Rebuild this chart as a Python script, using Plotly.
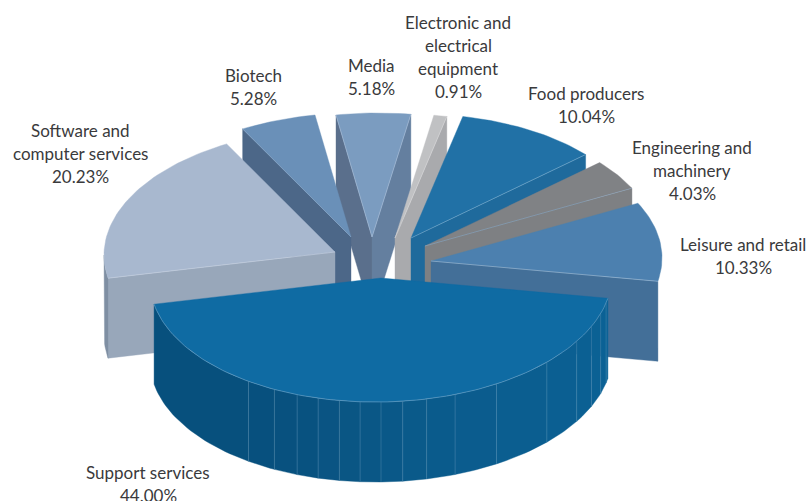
import math
import plotly.graph_objects as go

# Sector shares, clockwise from the sector centred on the front of the pie
sectors = ["Support services", "Software and computer services", "Biotech", "Media",
           "Electronic and electrical equipment", "Food producers",
           "Engineering and machinery", "Leisure and retail"]
shares = [44.00, 20.23, 5.28, 5.18, 0.91, 10.04, 4.03, 10.33]

label_lines = [["Support services"], ["Software and", "computer services"], ["Biotech"], ["Media"],
               ["Electronic and", "electrical", "equipment"], ["Food producers"],
               ["Engineering and", "machinery"], ["Leisure and retail"]]
label_anchor = [(148, 472), (80, 130), (253, 75), (371, 65), (458, 22), (586, 93), (692, 147), (743, 244)]

# Explosion offset of each sector from the pie centre
pull_x = [0, -46, -30, -9, 14, 30, 44, 50]
pull_y = [16, -10, -25, -25, -24, -24, -16, -1]

top_colors = ["#0F6BA3", "#A8B8CF", "#6A90B8", "#7B9CC0", "#C0C1C3", "#2171A6", "#808285", "#4C80AF"]
start_wall = ["#0A5A8C", "#98A7BA", "#4C6788", "#5A6F8C", "#A9AAAD", "#1F6A9C", "#7E8083", "#436F98"]
end_wall = ["#0A5A8C", "#98A7BA", "#4C6788", "#647F9F", "#A9AAAD", "#1F6A9C", "#7E8083", "#436F98"]
outer_wall = ["#0A5A8C", "#7F8FA3", "#4C6788", "#5A6F8C", "#A9AAAD", "#1F6A9C", "#7E8083", "#5C86AA"]
edge_colors = ["#6FA5C8", "#C8D2E0", "#8AA6C6", "#A6BCD6", "#D6D7D9", "#7FB0D0", "#8FA9C2", "#A5C0D8"]

# Paint order, back of the pie first
paint_order = [3, 4, 2, 5, 6, 7, 1, 0]

# Facets of the front wall, in degrees either side of the front point
facet_edges = [-35, -27.5, -21.3, -15.8, -10.4, -5.2, 0, 5.4, 11.4, 18.7, 30, 45.9, 57.9, 65.6, 72, 77]
facet_colors = ["#07507D", "#07507E", "#08517F", "#085280", "#0A5483", "#0A5684", "#0A5786", "#0A5888",
                "#0A5A8A", "#0A5B8C", "#0B5C8E", "#0B5E90", "#0B5F92", "#0B6093", "#0B6194", "#0B6195",
                "#0B6296"]

CX, CY = 381, 262
RX, RY = 231, 124
TILT = 3
DEPTH = 80

fig = go.Figure()


def rim(i, theta):
    t = math.radians(theta)
    return (CX + pull_x[i] + RX * math.sin(t),
            CY + pull_y[i] - RY * math.cos(t) - TILT * math.sin(t))


def apex(i):
    return CX + pull_x[i], CY + pull_y[i]


def poly(points, color):
    xs = [p[0] for p in points] + [points[0][0]]
    ys = [p[1] for p in points] + [points[0][1]]
    fig.add_trace(go.Scatter(x=xs, y=ys, mode="lines", fill="toself", fillcolor=color,
                             line=dict(color=color, width=0.4), hoverinfo="skip", showlegend=False))


def stroke(points, color, width=0.7):
    fig.add_trace(go.Scatter(x=[p[0] for p in points], y=[p[1] for p in points], mode="lines",
                             line=dict(color=color, width=width), hoverinfo="skip", showlegend=False))


def arc(i, a, b):
    n = max(2, int(abs(b - a) / 1.5) + 2)
    return [rim(i, a + (b - a) * k / (n - 1)) for k in range(n)]


def drop(points):
    return [(x, y + DEPTH) for x, y in points]


# Sector boundaries, measured clockwise from the back of the pie
bounds = []
angle = 180 - shares[0] * 3.6 / 2
for s in shares:
    bounds.append((angle, angle + s * 3.6))
    angle += s * 3.6

for i in paint_order:
    a, b = bounds[i]
    mid_edges = []
    # Cut faces that turn towards the viewer
    if math.sin(math.radians(a)) < 0:
        edge = [apex(i), rim(i, a)]
        poly(edge + drop(edge)[::-1], start_wall[i])
        mid_edges.append(edge)
    if math.sin(math.radians(b)) > 0:
        edge = [apex(i), rim(i, b)]
        poly(edge + drop(edge)[::-1], end_wall[i])
        mid_edges.append(edge)
    # Outer wall, on the front half of the rim only
    lo, hi = max(a, 90), min(b, 270)
    if hi > lo:
        if i == 0:
            stops = [hi] + [180 - e for e in facet_edges] + [lo]
            for k in range(len(stops) - 1):
                curve = arc(i, stops[k], stops[k + 1])
                poly(curve + drop(curve)[::-1], facet_colors[k])
            for e in facet_edges:
                p = rim(i, 180 - e)
                stroke([p, (p[0], p[1] + DEPTH)], "rgba(130,175,205,0.35)", 0.8)
        else:
            curve = arc(i, lo, hi)
            poly(curve + drop(curve)[::-1], outer_wall[i])
    # Top face
    poly([apex(i)] + arc(i, a, b), top_colors[i])
    for edge in mid_edges:
        stroke(edge, edge_colors[i], 0.6)
    if i == 0:
        stroke(arc(i, lo, hi), edge_colors[i], 0.6)

annotations = []
for i, lines in enumerate(label_lines):
    x, y = label_anchor[i]
    for k, text in enumerate(lines + [f"{shares[i]:.2f}%"]):
        annotations.append(dict(x=x, y=y + k * 23.3, text=text, showarrow=False,
                                xanchor="center", yanchor="middle", xref="x", yref="y",
                                font=dict(family="Lato", size=17, color="#3A3A3C")))

fig.update_layout(
    width=811, height=501, margin=dict(l=0, r=0, t=0, b=0),
    paper_bgcolor="white", plot_bgcolor="white",
    xaxis=dict(range=[0, 811], visible=False, fixedrange=True),
    yaxis=dict(range=[501, 0], visible=False, fixedrange=True),
    annotations=annotations,
)

fig.write_html("out.html", config={"displayModeBar": False})
